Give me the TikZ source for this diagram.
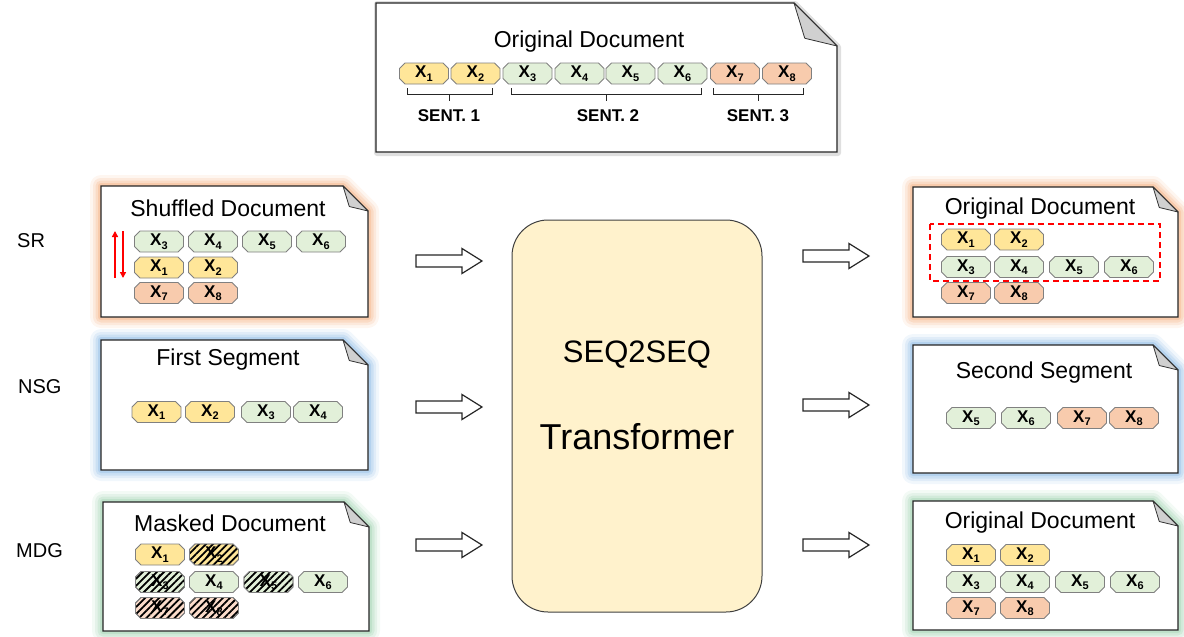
\documentclass[tikz,border=0pt]{standalone}
\usepackage{fontspec}
\setmainfont{Liberation Sans}
\usetikzlibrary{patterns.meta,arrows.meta}
\definecolor{ty}{HTML}{FFE699}
\definecolor{tg}{HTML}{E2F0D9}
\definecolor{to}{HTML}{F8CBAD}
\definecolor{tol}{HTML}{FBDCCB}
\definecolor{tokb}{HTML}{808080}
\definecolor{foldgray}{HTML}{D0D0D0}
\definecolor{glowo}{HTML}{F4B183}
\definecolor{glowb}{HTML}{8FBCE6}
\definecolor{glowg}{HTML}{9FD2B0}
\definecolor{tfill}{HTML}{FFF2CC}
\newcommand\Xs[1]{X\kern0.2pt\raisebox{-3.5pt}{\fontsize{11}{11}\selectfont #1}}
\newcommand\tokpath[2]{({#1-24.5+5.5},{#2-10.5}) -- ({#1+24.5-5.5},{#2-10.5}) -- ({#1+24.5},{#2-10.5+5.5}) -- ({#1+24.5},{#2+10.5-5.5}) -- ({#1+24.5-5.5},{#2+10.5}) -- ({#1-24.5+5.5},{#2+10.5}) -- ({#1-24.5},{#2+10.5-5.5}) -- ({#1-24.5},{#2-10.5+5.5}) -- cycle}
\newcommand\tok[5]{\draw[tokline, fill=#4] \tokpath{#2}{#3}; \node[toktext] (#1) at (#2,#3) {\Xs{#5}};}
\newcommand\htok[5]{\tok{#1}{#2}{#3}{#4}{#5}\draw[tokline, pattern={Lines[angle=45,distance=5pt,line width=1.8pt]}, pattern color=black] \tokpath{#2}{#3};}
\newcommand\docpath[5]{(#1,#2) -- ({#3-#5},#2) -- (#3,{#2+#5}) -- (#3,#4) -- (#1,#4) -- cycle}
\newcommand\docbase[5]{%
  \draw[fill=white, line width=1.4pt, draw=black!85] \docpath{#1}{#2}{#3}{#4}{#5};
  \draw[fill=foldgray, line width=0.8pt, draw=black!80, line join=round] ({#3-#5},#2) -- ({#3-0.75*#5},{#2+0.82*#5}) -- (#3,{#2+#5}) -- cycle;
}
\newcommand\mydoc[6]{%
  \foreach \w/\o in {22/0.12,16/0.18,11/0.26,6/0.38}{\draw[#6, line width=\w pt, opacity=\o, line join=round] \docpath{#1}{#2}{#3}{#4}{#5};}
  \docbase{#1}{#2}{#3}{#4}{#5}
}
\tikzset{
  tokline/.style={draw=tokb, line width=0.8pt},
  toktext/.style={inner sep=0pt, minimum width=49pt, minimum height=21pt, font=\fontsize{17}{17}\selectfont\bfseries},
  title/.style={font=\fontsize{23}{27}\selectfont, inner sep=0pt},
  sent/.style={font=\fontsize{17}{20}\selectfont\bfseries, inner sep=0pt},
  task/.style={font=\fontsize{20}{24}\selectfont, inner sep=0pt, anchor=west},
  brace/.style={line width=1pt, draw=black!85},
  harrow/.pic={\draw[line width=1.2pt, draw=black!85, fill=white, line join=miter] (0,-6) -- (46,-6) -- (46,-12.5) -- (66,0) -- (46,12.5) -- (46,6) -- (0,6) -- cycle;},
  redarr/.style={draw=red, line width=1.5pt, -{Triangle[length=6pt,width=6pt]}}
}
\begin{document}
\begin{tikzpicture}[x=1pt,y=-1pt]
\useasboundingbox (0,0) rectangle (1184,637);
% ---------- top document ----------
\draw[gray, line width=6pt, opacity=0.25, line join=round] \docpath{377}{4}{838}{153}{43};
\docbase{376}{3}{837}{152}{43}
\node[title] (ttop) at (589,42) {Original Document};
\tok{a1}{424}{73.5}{ty}{1}
\tok{a2}{475.5}{73.5}{ty}{2}
\tok{a3}{527.5}{73.5}{tg}{3}
\tok{a4}{579.5}{73.5}{tg}{4}
\tok{a5}{630.5}{73.5}{tg}{5}
\tok{a6}{682.5}{73.5}{tg}{6}
\tok{a7}{735}{73.5}{to}{7}
\tok{a8}{787}{73.5}{to}{8}
\draw[brace] (407,88) -- (407,94) -- (492,94) -- (492,88) (449.5,94) -- (449.5,101);
\draw[brace] (511,88) -- (511,94) -- (701,94) -- (701,88) (606,94) -- (606,101);
\draw[brace] (713,88) -- (713,94) -- (803,94) -- (803,88) (758,94) -- (758,101);
\node[sent] (s1) at (449,116) {SENT. 1};
\node[sent] (s2) at (608,116) {SENT. 2};
\node[sent] (s3) at (758,116) {SENT. 3};
% ---------- task labels ----------
\node[task] (lsr) at (17,241) {SR};
\node[task] (lnsg) at (18,387) {NSG};
\node[task] (lmdg) at (16,551) {MDG};
% ---------- SR input ----------
\mydoc{101}{186}{368}{317}{25}{glowo}
\node[title] (tsr) at (228,208) {Shuffled Document};
\tok{b3}{159}{241.5}{tg}{3}
\tok{b4}{213}{241.5}{tg}{4}
\tok{b5}{267}{241.5}{tg}{5}
\tok{b6}{321}{241.5}{tg}{6}
\tok{b1}{159}{267.5}{ty}{1}
\tok{b2}{213}{267.5}{ty}{2}
\tok{b7}{159}{293}{to}{7}
\tok{b8}{213}{293}{to}{8}
\coordinate (ru1) at (115,278);
\coordinate (ru2) at (115,231);
\coordinate (rd1) at (123,231);
\coordinate (rd2) at (123,278);
\draw[redarr] (ru1) -- (ru2);
\draw[redarr] (rd1) -- (rd2);
% ---------- NSG input ----------
\mydoc{101}{340}{368}{470}{25}{glowb}
\node[title] (tnsg) at (228,360) {First Segment};
\tok{c1}{156.5}{412}{ty}{1}
\tok{c2}{210}{412}{ty}{2}
\tok{c3}{266}{412}{tg}{3}
\tok{c4}{318}{412}{tg}{4}
% ---------- MDG input ----------
\mydoc{103}{502}{369}{631}{25}{glowg}
\node[title] (tmdg) at (230,523) {Masked Document};
\tok{d1}{160}{554.5}{ty}{1}
\htok{d2}{214}{554.5}{ty}{2}
\htok{d3}{160}{582}{tg}{3}
\tok{d4}{214}{582}{tg}{4}
\htok{d5}{268.5}{582}{tg}{5}
\tok{d6}{323}{582}{tg}{6}
\htok{d7}{160}{608}{tol}{7}
\htok{d8}{214}{608}{tol}{8}
% ---------- transformer ----------
\node[draw=black!75, line width=1pt, fill=tfill, rounded corners=36pt, minimum width=250pt, minimum height=392pt, inner sep=0pt] (tf) at (637,416) {};
\node[font=\fontsize{31}{36}\selectfont, inner sep=0pt] (seq) at (637,355) {SEQ2SEQ};
\node[font=\fontsize{36}{42}\selectfont, inner sep=0pt] (trf) at (637,437) {Transformer};
% ---------- block arrows ----------
\pic at (416,261) {harrow};
\pic at (416,407) {harrow};
\pic at (416,545) {harrow};
\pic at (803,256) {harrow};
\pic at (803,405) {harrow};
\pic at (803,545) {harrow};
% ---------- SR output ----------
\mydoc{913}{187}{1178}{317}{25}{glowo}
\node[title] (tsro) at (1040,209) {Original Document};
\tok{e1}{966}{239.5}{ty}{1}
\tok{e2}{1019}{239.5}{ty}{2}
\tok{e3}{966}{267}{tg}{3}
\tok{e4}{1019}{267}{tg}{4}
\tok{e5}{1074}{267}{tg}{5}
\tok{e6}{1129}{267}{tg}{6}
\tok{e7}{966}{293}{to}{7}
\tok{e8}{1019}{293}{to}{8}
\draw[red, line width=1.8pt, dash pattern=on 6pt off 4pt] (930,224) rectangle (1160,281);
% ---------- NSG output ----------
\mydoc{913}{345}{1178}{473}{25}{glowb}
\node[title] (tnsgo) at (1044,373) {Second Segment};
\tok{f5}{971}{418}{tg}{5}
\tok{f6}{1026}{418}{tg}{6}
\tok{f7}{1082}{418}{to}{7}
\tok{f8}{1134}{418}{to}{8}
% ---------- MDG output ----------
\mydoc{913}{501}{1178}{630}{25}{glowg}
\node[title] (tmdgo) at (1040,523) {Original Document};
\tok{g1}{971}{555}{ty}{1}
\tok{g2}{1025}{555}{ty}{2}
\tok{g3}{971}{582}{tg}{3}
\tok{g4}{1025}{582}{tg}{4}
\tok{g5}{1080}{582}{tg}{5}
\tok{g6}{1135}{582}{tg}{6}
\tok{g7}{971}{608}{to}{7}
\tok{g8}{1025}{608}{to}{8}
\end{tikzpicture}
\end{document}
